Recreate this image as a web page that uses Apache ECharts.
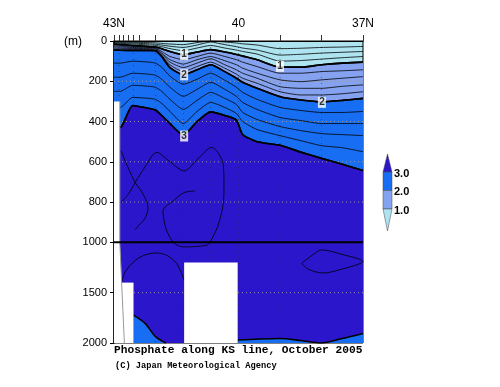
<!DOCTYPE html>
<html><head><meta charset="utf-8">
<script src="https://cdn.jsdelivr.net/npm/echarts@6/dist/echarts.min.js"></script>
<style>html,body{margin:0;padding:0;background:#fff}#c{width:500px;height:387px}</style>
</head><body><div id="c"></div>
<script>
// ---------------- DATA ----------------
// latitude nodes (deg N) along the section
const lats = [43.0, 42.85, 42.55, 42.15, 42.0, 41.85, 41.65, 41.33, 41.0, 40.67, 40.33, 40.05, 39.9, 39.55, 39.0, 38.5, 38.0, 37.5, 37.0];
// isoline depths (m) at each node
const iso04 = [3, 4, 6, 8, 9, 12, 15, 18, 8, 0, 5, 10, 14, 20, 38, 36, 32, 30, 27];
const iso06 = [6, 8, 10, 14, 16, 20, 26, 32, 20, 5, 18, 28, 35, 45, 70, 66, 60, 56, 52];
const iso08 = [10, 12, 15, 20, 22, 28, 38, 48, 35, 22, 35, 45, 52, 65, 100, 97, 90, 83, 77];
const iso10 = [15, 18, 22, 28, 30, 38, 52, 68, 55, 43, 55, 67, 75, 93, 130, 130, 118, 110, 105];
const iso12 = [22, 25, 27, 30, 33, 52, 77, 93, 77, 60, 77, 93, 105, 127, 160, 160, 152, 148, 143];
const iso14 = [28, 30, 32, 34, 36, 60, 93, 115, 93, 77, 98, 118, 135, 160, 193, 202, 193, 185, 177];
const iso16 = [34, 36, 37, 38, 40, 65, 105, 132, 110, 88, 118, 143, 160, 185, 227, 235, 235, 225, 218];
const iso18 = [40, 41, 42, 42, 44, 72, 118, 152, 127, 105, 135, 165, 185, 210, 252, 268, 268, 262, 252];
const iso20 = [45, 46, 47, 47, 48, 77, 132, 168, 143, 118, 152, 185, 205, 235, 277, 293, 302, 295, 285];
const iso22 = [110, 110, 100, 105, 110, 130, 175, 215, 190, 160, 195, 230, 255, 290, 330, 345, 355, 355, 350];
const iso24 = [180, 180, 160, 165, 170, 190, 230, 275, 240, 205, 240, 275, 305, 340, 380, 395, 410, 410, 410];
const iso26 = [250, 250, 220, 225, 230, 250, 290, 340, 295, 255, 285, 315, 355, 390, 425, 445, 460, 465, 470];
const iso28 = [330, 330, 280, 285, 290, 310, 350, 410, 350, 305, 330, 360, 400, 440, 470, 495, 520, 530, 550];
const iso30 = [430, 430, 320, 335, 343, 370, 410, 468, 400, 352, 370, 393, 465, 500, 518, 552, 583, 612, 643];
// deep thin contours [lat, depth]
const deepA = [[42.83,545],[42.70,610],[42.49,703],[42.30,760],[42.18,828],[42.25,880],[42.40,915],[42.49,937]];
const deepB = [[42.83,802],[42.65,760],[42.49,703],[42.25,625],[41.97,553],[41.65,600],[41.31,645],[40.98,585],[40.65,528],[40.37,612],[40.35,720],[40.37,812],[40.50,920],[40.69,1000],[40.77,1030],[41.33,1046],[41.57,1000],[41.75,930],[41.82,845],[41.55,790],[41.31,753],[41.05,745]];
const deepC = [[42.82,1400],[42.73,1294],[42.49,1180],[42.25,1125],[41.97,1106],[41.73,1129],[41.49,1211],[41.31,1376]];
const deepD = [[38.48,1211],[38.2,1120],[38.0,1075],[37.5,1120],[37.0,1190],[37.5,1265],[37.96,1305],[38.3,1270],[38.48,1211]];
// bottom 3.0 isolines (2-3 patches near the bottom)
const bottomLeft = [[42.53,1723],[42.25,1805],[42.0,1937],[41.75,2000]];
const bottomRight = [[40.02,1970],[39.5,1960],[39.0,1955],[38.5,1975],[38.0,2000],[37.5,1955],[37.0,1905]];
// missing-data areas
const whiteRects = [[42.83, 42.53, 1400, 2000], [41.31, 40.02, 1200, 2000]];
const leftStrip = [[43.0,300],[42.86,300],[42.86,1000],[42.75,2000],[43.0,2000]];
const bottomEdge = [[42.86,300],[42.86,1000],[42.75,2000]];
// contour labels
const labLats = [41.31, 39.0, 41.31, 37.99, 41.31];
const labDepths = [68, 126, 168, 305, 472];
const labTexts = ['1', '1', '2', '2', '3'];
// axes
const stationLats = [43.0, 42.88, 42.78, 42.66, 42.53, 42.38, 42.0, 41.33, 41.0, 40.67, 40.33, 40.0, 39.0, 38.0, 37.0];
const gridLats = [42.88, 42.53, 42.0, 41.33, 40.67, 40.0, 39.0, 38.0];
const xLabelVals = [43, 40, 37];
const xLabelTexts = ['43N', '40', '37N'];
const depthTicks = [0, 200, 400, 600, 800, 1000, 1500, 2000];
const gridDepths = [200, 400, 600, 800, 1500];
const levels = [1.0, 2.0, 3.0];
const levelColors = ['#aee3f0', '#84a2ef', '#186ef2', '#2c16cc']; // <1, 1-2, 2-3, >3

// ---------------- CHART ----------------
const tz = d => d <= 1000 ? d : 1000 + (d - 1000) / 2;   // broken depth axis
const untz = v => v <= 1000 ? v : 1000 + (v - 1000) * 2;
const pts = arr => lats.map((la, i) => [la, tz(arr[i])]);
const pp = arr => arr.map(p => [p[0], tz(p[1])]);

function iso(arr, w, fill, z, smooth) {
  const s = {type: 'line', data: arr, symbol: 'none', smooth: smooth == null ? 0.2 : smooth, silent: true,
    lineStyle: {color: '#000', width: w}, z: z, animation: false};
  if (fill) s.areaStyle = {color: fill, opacity: 1, origin: 'end'};
  return s;
}

const series = [];
// fills
series.push(iso(pts(iso10), 1.6, levelColors[1], 1));
series.push(iso(pts(iso20), 1.6, levelColors[2], 1));
series.push(iso(pts(iso30), 1.6, levelColors[3], 1));
series.push(iso(pp(bottomLeft), 1.6, levelColors[2], 1, 0.3));
series.push(iso(pp(bottomRight), 1.6, levelColors[2], 1, 0.3));
// dotted grid
series.push({type: 'custom', silent: true, z: 2, animation: false, data: gridDepths.map(d => [tz(d)]),
  renderItem: (p, api) => {
    const a = api.coord([43, api.value(0)]), b = api.coord([37, api.value(0)]);
    return {type: 'line', shape: {x1: a[0], y1: a[1], x2: b[0], y2: b[1]},
      style: {stroke: '#9a9a9a', lineWidth: 1, lineDash: [1, 3]}};
  }});
series.push({type: 'custom', silent: true, z: 2, animation: false, data: gridLats.map(l => [l]),
  renderItem: (p, api) => {
    const a = api.coord([api.value(0), 0]), b = api.coord([api.value(0), 1500]);
    return {type: 'line', shape: {x1: a[0], y1: a[1], x2: b[0], y2: b[1]},
      style: {stroke: 'rgba(40,40,40,0.55)', lineWidth: 1, lineDash: [1, 5]}};
  }});
// thin contours
[iso04, iso06, iso08, iso12, iso14, iso16, iso18, iso22, iso24, iso26, iso28].forEach(a => series.push(iso(pts(a), 0.8, null, 3)));
[deepA, deepB, deepC, deepD].forEach(a => series.push(iso(pp(a), 0.8, null, 3, 0.3)));
// thick contours on top
series.push(iso(pts(iso10), 1.6, null, 4));
series.push(iso(pts(iso20), 1.6, null, 4));
series.push(iso(pts(iso30), 1.6, null, 4));
// white (no data) areas
series.push({type: 'custom', silent: true, z: 5, animation: false, data: whiteRects,
  renderItem: (p, api) => {
    const a = api.coord([api.value(0), tz(api.value(2))]), b = api.coord([api.value(1), tz(api.value(3))]);
    return {type: 'rect', shape: {x: a[0], y: a[1], width: b[0] - a[0], height: b[1] - a[1]}, style: {fill: '#fff'}};
  }});
series.push({type: 'custom', silent: true, z: 5, animation: false, data: [[0]],
  renderItem: (p, api) => ({type: 'polygon', shape: {points: leftStrip.map(q => api.coord([q[0], tz(q[1])]))}, style: {fill: '#fff'}})});
series.push({type: 'line', data: pp(bottomEdge), symbol: 'none', silent: true, z: 6, animation: false,
  lineStyle: {color: '#999', width: 1}});
// 1000 m line
series.push({type: 'custom', silent: true, z: 7, animation: false, data: [[1000]],
  renderItem: (p, api) => {
    const a = api.coord([43, api.value(0)]), b = api.coord([37, api.value(0)]);
    return {type: 'line', shape: {x1: a[0], y1: a[1], x2: b[0], y2: b[1]}, style: {stroke: '#000', lineWidth: 2}};
  }});
// contour labels
series.push({type: 'scatter', silent: true, z: 8, animation: false, symbol: 'rect', symbolSize: [8, 11],
  itemStyle: {color: '#fff'},
  data: labLats.map((l, i) => ({value: [l, tz(labDepths[i])], name: labTexts[i]})),
  label: {show: true, position: 'inside', formatter: p => p.name, color: '#000', fontSize: 10, fontWeight: 'bold', fontFamily: 'Liberation Sans'}});

// colour bar
const cbX = 383, cbW = 9, cbY = {3: 172, 2: 190.5, 1: 209}, cbTop = 154, cbBot = 231;
const graphics = [
  {type: 'polygon', shape: {points: [[cbX + cbW / 2, cbTop], [cbX + cbW, cbY[3]], [cbX, cbY[3]]]}, style: {fill: levelColors[3], stroke: '#444', lineWidth: 0.5}},
  {type: 'rect', shape: {x: cbX, y: cbY[3], width: cbW, height: cbY[2] - cbY[3]}, style: {fill: levelColors[2], stroke: '#444', lineWidth: 0.5}},
  {type: 'rect', shape: {x: cbX, y: cbY[2], width: cbW, height: cbY[1] - cbY[2]}, style: {fill: levelColors[1], stroke: '#444', lineWidth: 0.5}},
  {type: 'polygon', shape: {points: [[cbX, cbY[1]], [cbX + cbW, cbY[1]], [cbX + cbW / 2, cbBot]]}, style: {fill: levelColors[0], stroke: '#444', lineWidth: 0.5}},
  {type: 'text', left: 64, top: 36, style: {text: '(m)', font: '12px "Liberation Sans"', fill: '#000'}},
  {type: 'text', left: 114, top: 345, style: {text: 'Phosphate along KS line, October 2005', font: 'bold 11.2px "Liberation Mono"', fill: '#000'}},
  {type: 'text', left: 115, top: 361, style: {text: '(C) Japan Meteorological Agency', font: 'bold 8.7px "Liberation Mono"', fill: '#000'}}
];
levels.forEach(v => graphics.push({type: 'text', left: 394, top: cbY[v] - 4,
  style: {text: v.toFixed(1), font: 'bold 11px "Liberation Sans"', fill: '#000'}}));

const chart = echarts.init(document.getElementById('c'), null, {renderer: 'canvas'});
chart.setOption({
  animation: false,
  grid: {left: 114, right: 137, top: 41, bottom: 44, show: true, borderColor: '#000', borderWidth: 1, backgroundColor: levelColors[0]},
  xAxis: {type: 'value', position: 'top', inverse: true, min: 37, max: 43,
    axisLine: {show: true, lineStyle: {color: '#000', width: 1}},
    axisTick: {show: true, customValues: stationLats, length: 6, lineStyle: {color: '#333'}},
    axisLabel: {customValues: xLabelVals, margin: 11, fontSize: 12, color: '#000', fontFamily: 'Liberation Sans',
      formatter: v => xLabelTexts[xLabelVals.indexOf(v)]},
    splitLine: {show: false}},
  yAxis: {type: 'value', inverse: true, min: 0, max: 1500,
    axisLine: {show: true, lineStyle: {color: '#000', width: 1.5}},
    axisTick: {show: true, customValues: depthTicks.map(tz), length: 4, lineStyle: {color: '#000'}},
    axisLabel: {customValues: depthTicks.map(tz), margin: 7, fontSize: 11, color: '#000', fontFamily: 'Liberation Sans',
      formatter: v => String(Math.round(untz(v)))},
    splitLine: {show: false}},
  graphic: graphics,
  series: series
});
</script></body></html>
